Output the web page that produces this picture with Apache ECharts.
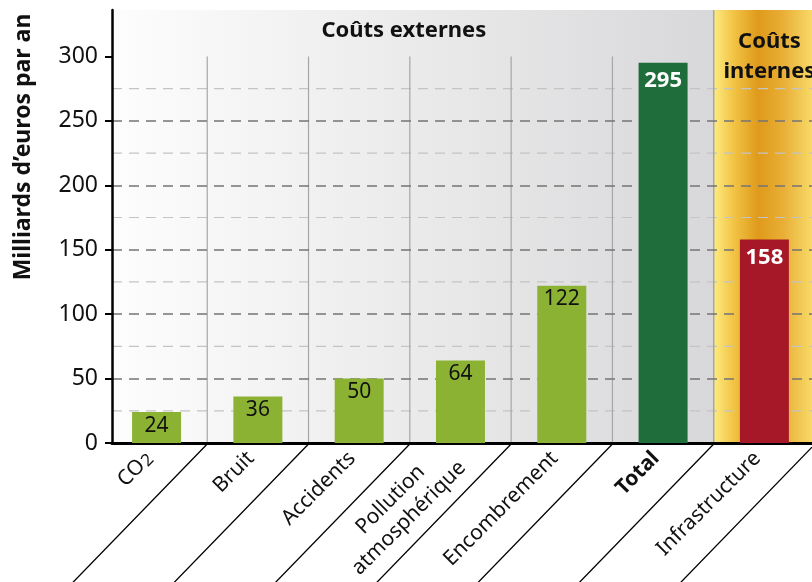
<!DOCTYPE html>
<html><head><meta charset="utf-8">
<script src="https://cdn.jsdelivr.net/npm/echarts@6/dist/echarts.min.js"></script>
<style>html,body{margin:0;padding:0;background:#fff}#c{width:812px;height:582px}</style>
</head><body><div id="c"></div>
<script>
const categories = ['CO2', 'Bruit', 'Accidents', 'Pollution\natmosphérique', 'Encombrement', 'Total', 'Infrastructure'];
const values = [24, 36, 50, 64, 122, 295, 158];
const yTicks = [0, 50, 100, 150, 200, 250, 300];
const yMinorTicks = [25, 75, 125, 175, 225, 275];
const groups = [
  { name: 'Coûts externes', first: 0, last: 5 },
  { name: 'Coûts\ninternes', first: 6, last: 6 }
];
const yName = 'Milliards d’euros par an';

const FONT = '"Noto Sans", "DejaVu Sans", sans-serif';
const chart = echarts.init(document.getElementById('c'));

function barColor(i) {
  if (i >= groups[1].first) return '#a61727';
  if (categories[i] === 'Total') return '#1f6d3b';
  return '#8cb234';
}
function catLabel(v) {
  const i = Math.round(v);
  const c = categories[i];
  if (c === undefined) return '';
  if (c === 'CO2') return 'CO{s|2}';
  if (c === 'Total') return '{b|Total}';
  if (c.indexOf('\n') >= 0) return c.split('\n').map(t => '{m|' + t + '}').join('\n');
  return c;
}

const boundaries = categories.map((c, i) => [i + 0.5, 0]);

chart.setOption({
  animation: false,
  grid: { left: 112, right: 0, top: 10, bottom: 139, outerBoundsMode: 'none', containLabel: false },
  xAxis: {
    type: 'value', min: -0.44, max: 6.47,
    axisLine: { show: true, lineStyle: { color: '#000', width: 3 } },
    axisTick: { show: false },
    splitLine: { show: false },
    axisLabel: {
      customValues: categories.map((c, i) => i),
      rotate: 45, margin: 5, padding: [0, 10, 0, 0],
      fontSize: 21, fontFamily: FONT, color: '#111',
      formatter: catLabel,
      rich: {
        s: { fontSize: 17, fontFamily: FONT, color: '#111', padding: [5, 0, 0, 1] },
        b: { fontSize: 21, fontWeight: 'bold', fontFamily: FONT, color: '#111' },
        m: { fontSize: 21, fontFamily: FONT, color: '#111', width: 152, align: 'center', lineHeight: 26 }
      }
    }
  },
  yAxis: {
    type: 'value', min: 0, max: 336, interval: 50,
    axisLine: { show: true, onZero: false, lineStyle: { color: '#000', width: 2.5 } },
    axisTick: { show: true, customValues: yTicks, length: 7, lineStyle: { color: '#000', width: 2 } },
    axisLabel: { customValues: yTicks, margin: 14, fontSize: 23, fontFamily: FONT, color: '#111' },
    splitLine: { show: true, showMaxLine: false, showMinLine: false, lineStyle: { color: '#747474', width: 1.5, type: [10, 7] } }
  },
  graphic: [{
    type: 'text', x: 23, y: 147, rotation: Math.PI / 2,
    style: { text: yName, font: 'bold 23px ' + FONT, fill: '#111', align: 'center', verticalAlign: 'middle' }
  }],
  series: [
    {
      type: 'custom', z: -3, clip: false, silent: true,
      data: groups.map(g => [g.first, g.last]),
      encode: { x: [0, 1] },
      renderItem: function (params, api) {
        const cs = params.coordSys;
        const f = api.value(0), l = api.value(1);
        const xl = Math.max(cs.x, api.coord([f - 0.5, 0])[0]);
        const xr = Math.min(cs.x + cs.width, api.coord([l + 0.5, 0])[0]);
        const cx = (api.coord([f, 0])[0] + api.coord([l, 0])[0]) / 2;
        const internal = params.dataIndex === 1;
        const fill = internal
          ? new echarts.graphic.LinearGradient(0, 0, 1, 0, [
              { offset: 0, color: '#fdeb80' }, { offset: 0.2, color: '#f2c445' },
              { offset: 0.45, color: '#df9a1b' }, { offset: 0.7, color: '#e8ae35' },
              { offset: 1, color: '#f8d968' }])
          : new echarts.graphic.LinearGradient(0, 0, 1, 0, [
              { offset: 0, color: '#fdfdfd' }, { offset: 1, color: '#d8d8da' }]);
        return {
          type: 'group',
          children: [
            { type: 'rect', shape: { x: xl, y: cs.y, width: xr - xl, height: cs.height }, style: { fill: fill } },
            { type: 'text', x: internal ? cx + 5 : cx - 6, y: cs.y + (internal ? 17 : 6),
              style: { text: groups[params.dataIndex].name, font: 'bold 22px ' + FONT, fill: '#111',
                       align: 'center', verticalAlign: 'top', lineHeight: 30 } }
          ]
        };
      }
    },
    {
      type: 'custom', z: -2, clip: false, silent: true,
      data: yMinorTicks.map(v => [0, v]),
      encode: { x: 0, y: 1 },
      renderItem: function (params, api) {
        const cs = params.coordSys;
        const y = api.coord([0, api.value(1)])[1];
        return { type: 'line', shape: { x1: cs.x, y1: y, x2: cs.x + cs.width, y2: y },
                 style: { stroke: '#c4c4c4', lineWidth: 1.2, lineDash: [10, 7] } };
      }
    },
    {
      type: 'custom', z: -1, clip: false, silent: true,
      data: boundaries,
      encode: { x: 0, y: 1 },
      renderItem: function (params, api) {
        const cs = params.coordSys;
        const x = api.value(0);
        const p0 = api.coord([x, 0]);
        const pTop = api.coord([x, yTicks[yTicks.length - 1]]);
        const isGroup = x === groups[1].first - 0.5;
        return {
          type: 'group',
          children: [
            { type: 'line', shape: { x1: p0[0], y1: p0[1], x2: p0[0], y2: isGroup ? cs.y : pTop[1] },
              style: { stroke: '#a6a6a6', lineWidth: isGroup ? 1.5 : 1.2 } },
            { type: 'line', shape: { x1: p0[0], y1: p0[1] + 1, x2: p0[0] - 165, y2: p0[1] + 171 },
              style: { stroke: '#000', lineWidth: 1.3 } }
          ]
        };
      }
    },
    {
      type: 'bar', barWidth: 49, z: 2,
      data: values.map((v, i) => {
        const strong = i >= groups[1].first || categories[i] === 'Total';
        return {
          value: [i, v],
          itemStyle: { color: barColor(i) },
          label: strong ? { color: '#fff', fontWeight: 'bold', fontSize: 22, distance: 7 } : {}
        };
      }),
      label: { show: true, position: 'insideTop', distance: 3, fontSize: 21, fontFamily: FONT, color: '#111' }
    }
  ]
});
</script></body></html>
